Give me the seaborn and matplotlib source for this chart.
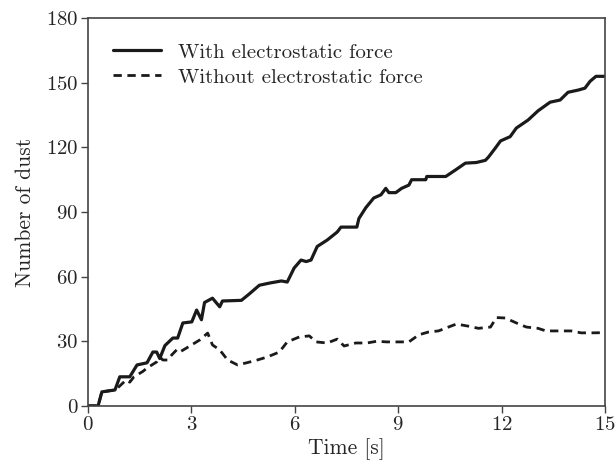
import matplotlib
matplotlib.use("Agg")
import matplotlib.pyplot as plt
import seaborn as sns
import pandas as pd

# Data
with_time = [0.0, 0.29, 0.40, 0.78, 0.92, 1.21, 1.42, 1.71, 1.88, 1.99, 2.08, 2.23, 2.46,
             2.60, 2.75, 3.01, 3.15, 3.29, 3.38, 3.61, 3.82, 3.90, 4.45, 4.68, 4.97, 5.26,
             5.61, 5.78, 5.98, 6.18, 6.33, 6.47, 6.65, 6.94, 7.23, 7.34, 7.80, 7.86, 8.06,
             8.29, 8.50, 8.64, 8.73, 8.93, 9.10, 9.31, 9.39, 9.80, 9.83, 10.38, 10.66,
             10.95, 11.27, 11.53, 11.62, 11.82, 11.97, 12.25, 12.43, 12.77, 13.06, 13.41,
             13.70, 13.93, 14.22, 14.42, 14.57, 14.74, 15.0]
with_count = [0, 0, 6.5, 7.4, 13.5, 13.5, 19, 20, 25, 25, 22, 28, 31.5,
              31.5, 38.5, 39, 44.5, 40, 48, 50, 46, 48.7, 49, 52, 56, 57,
              58, 57.5, 64, 67.7, 67, 67.7, 74, 77, 80.7, 83, 83, 87, 92,
              96.5, 98, 101, 99, 99, 101, 102.5, 105, 105, 106.5, 106.5, 109.5,
              112.7, 113, 114, 115.5, 119.7, 123, 125, 129, 132.7, 137, 141,
              142, 145.6, 146.6, 147.5, 150.7, 153, 153]

without_time = [0.0, 0.29, 0.40, 0.78, 0.87, 1.10, 1.21, 1.33, 1.59, 1.71, 1.85, 1.99,
                2.08, 2.17, 2.31, 2.43, 2.57, 2.66, 2.87, 3.24, 3.47, 3.61, 3.82, 4.05,
                4.34, 4.60, 4.91, 5.20, 5.55, 5.78, 6.13, 6.42, 6.62, 6.94, 7.23, 7.43,
                7.77, 8.09, 8.38, 8.67, 9.02, 9.31, 9.60, 9.88, 10.17, 10.46, 10.69,
                11.04, 11.33, 11.68, 11.85, 12.11, 12.43, 12.72, 13.06, 13.29, 13.64,
                14.02, 14.31, 14.60, 15.0]
without_count = [0, 0, 6.5, 7.4, 8.5, 12, 11, 13.5, 16, 17.6, 19, 20.4,
                 22.7, 21.3, 21.3, 23.7, 26, 25, 27, 30.6, 33.8, 28.3, 26, 21.3,
                 19, 20, 21.3, 22.7, 25, 29.7, 32, 32.5, 29.7, 29.2, 31, 27.8,
                 29.2, 29.2, 30, 29.7, 29.7, 29.7, 33, 34.3, 34.8, 36.6, 38,
                 37, 36, 36.6, 41, 40.8, 38.5, 36.6, 36, 34.8, 34.8,
                 34.8, 33.9, 33.9, 34]

df_with = pd.DataFrame({"t": with_time, "n": with_count})
df_without = pd.DataFrame({"t": without_time, "n": without_count})

sns.set_style("ticks")
plt.rcParams["font.family"] = ["cmr10", "DejaVu Serif"]
plt.rcParams["mathtext.fontset"] = "cm"
plt.rcParams["axes.formatter.use_mathtext"] = True

fig = plt.figure(figsize=(6.16, 4.66), dpi=100)
ax = fig.add_axes([0.143, 0.129, 0.839, 0.832])

sns.lineplot(data=df_with, x="t", y="n", ax=ax, color="#1a1a1a", linewidth=2.3,
             label="With electrostatic force")
sns.lineplot(data=df_without, x="t", y="n", ax=ax, color="#1a1a1a", linewidth=2.0,
             linestyle=(0, (3, 2)), label="Without electrostatic force")

ax.set_xlim(0, 15)
ax.set_ylim(0, 180)
ax.set_xticks([0, 3, 6, 9, 12, 15])
ax.set_yticks([0, 30, 60, 90, 120, 150, 180])
ax.set_xlabel("Time [s]", fontsize=15.5, labelpad=3)
ax.set_ylabel("Number of dust", fontsize=15.5, labelpad=8)
ax.tick_params(labelsize=15, direction="out", length=5, width=1.0, color="#444444", pad=2)

for side in ["top", "right", "left", "bottom"]:
    ax.spines[side].set_visible(True)
    ax.spines[side].set_color("#444444")
    ax.spines[side].set_linewidth(1.2)

ax.legend(loc="upper left", frameon=False, fontsize=15, handlelength=2.3,
          bbox_to_anchor=(0.0, 1.0), borderaxespad=0.8, labelspacing=0.3)

plt.savefig("out.png", dpi=100)
